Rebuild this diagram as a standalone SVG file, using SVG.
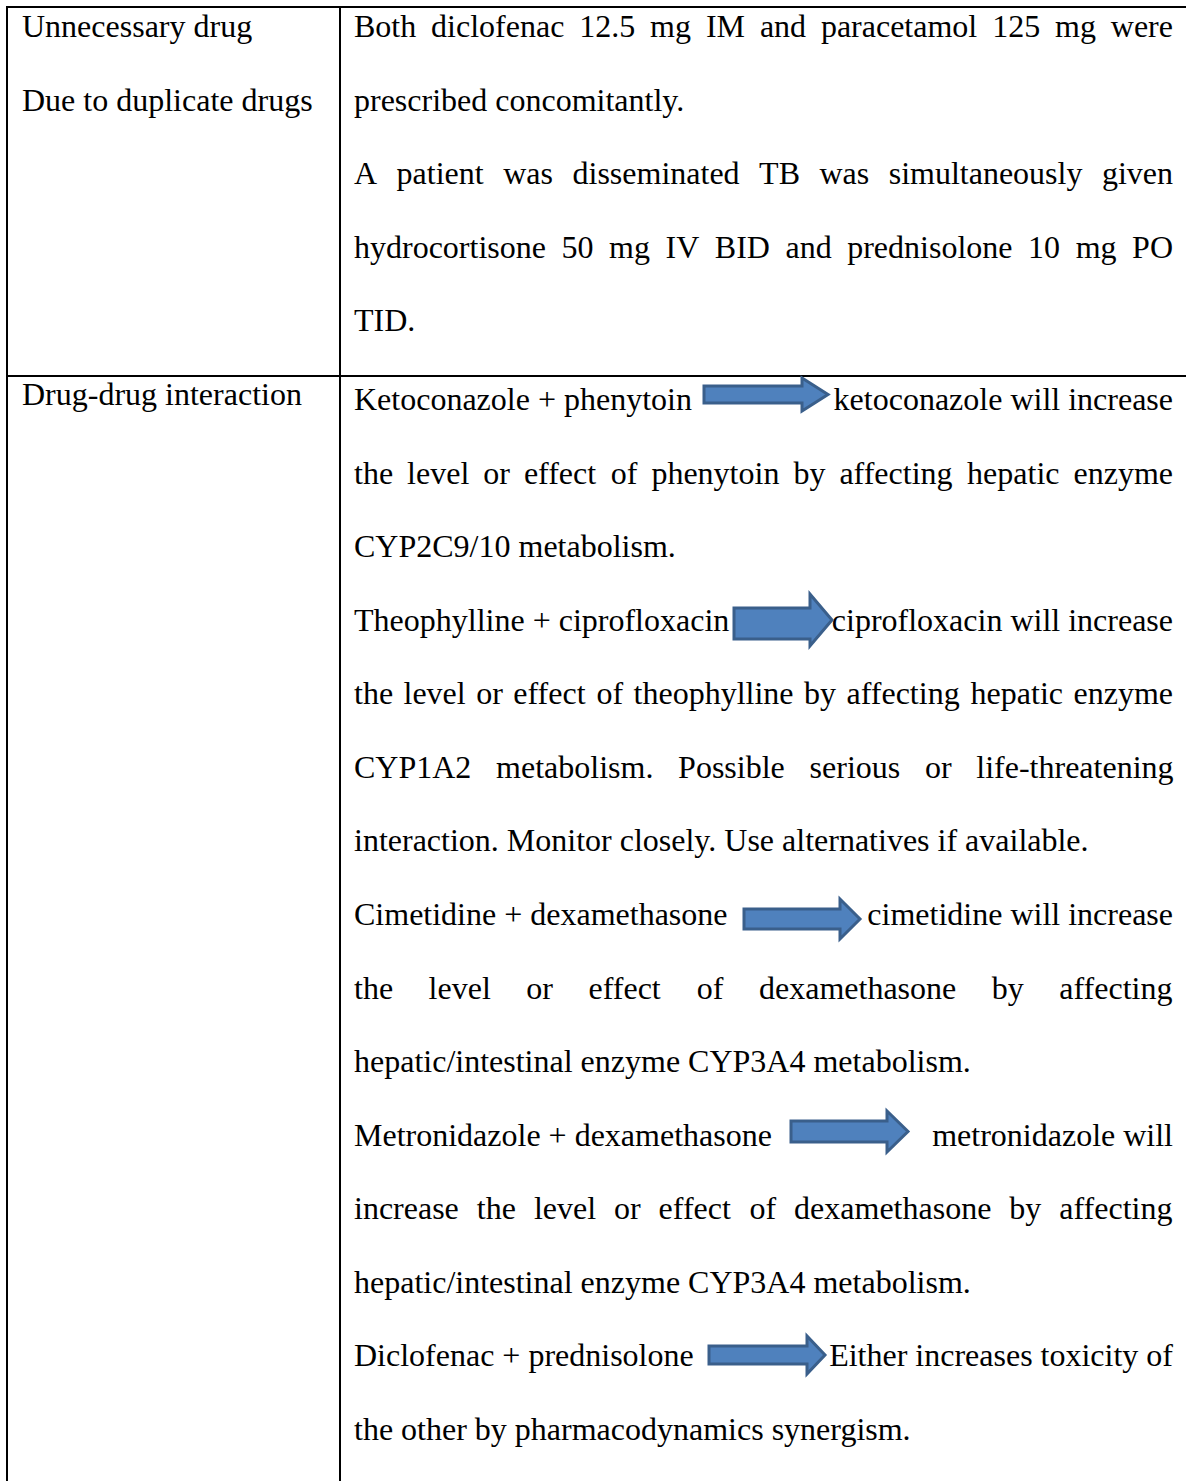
<svg xmlns="http://www.w3.org/2000/svg" width="1186" height="1481" viewBox="0 0 1186 1481">
<style>
text{font-family:"Liberation Serif","Times New Roman",serif;font-size:32px;fill:#000}
.r{text-anchor:end}
.grid{stroke:#000;stroke-width:2;fill:none}
.arr{fill:#4F81BD;stroke:#3A5F8B;stroke-width:3;stroke-linejoin:miter}
</style>
<rect width="1186" height="1481" fill="#fff"/>
<g id="grid" class="grid">
<line x1="7" y1="7" x2="1186" y2="7"/>
<line x1="7" y1="376" x2="1186" y2="376"/>
<line x1="7" y1="6" x2="7" y2="1481"/>
<line x1="340" y1="6" x2="340" y2="1481"/>
</g>
<g id="row1-left">
<text x="22" y="37">Unnecessary drug</text>
<text x="22" y="110.5">Due to duplicate drugs</text>
</g>
<g id="row1-right">
<text y="37"><tspan x="354">Both</tspan><tspan x="431.1">diclofenac</tspan><tspan x="579.3">12.5</tspan><tspan x="650.1">mg</tspan><tspan x="705.9">IM</tspan><tspan x="759.9">and</tspan><tspan x="820.9">paracetamol</tspan><tspan x="992.2">125</tspan><tspan x="1055.1">mg</tspan><tspan x="1110.8">were</tspan></text>
<text x="354" y="110.5">prescribed concomitantly.</text>
<text y="184"><tspan x="354">A</tspan><tspan x="396.6">patient</tspan><tspan x="503.2">was</tspan><tspan x="572.5">disseminated</tspan><tspan x="759.1">TB</tspan><tspan x="819.5">was</tspan><tspan x="888.7">simultaneously</tspan><tspan x="1101.9">given</tspan></text>
<text y="257.5"><tspan x="354">hydrocortisone</tspan><tspan x="561.5">50</tspan><tspan x="609.1">mg</tspan><tspan x="665.5">IV</tspan><tspan x="714.8">BID</tspan><tspan x="785.5">and</tspan><tspan x="847.2">prednisolone</tspan><tspan x="1028.1">10</tspan><tspan x="1075.7">mg</tspan><tspan x="1132.1">PO</tspan></text>
<text x="354" y="331">TID.</text>
</g>
<g id="row2-left">
<text x="22" y="405">Drug-drug interaction</text>
</g>
<g id="row2-right">
<text x="354" y="410">Ketoconazole + phenytoin</text>
<text class="r" x="1173" y="410">ketoconazole will increase</text>
<text y="483.6"><tspan x="354">the</tspan><tspan x="407.1">level</tspan><tspan x="483.3">or</tspan><tspan x="523.9">effect</tspan><tspan x="610.8">of</tspan><tspan x="651.4">phenytoin</tspan><tspan x="793.4">by</tspan><tspan x="839.4">affecting</tspan><tspan x="967.1">hepatic</tspan><tspan x="1073.5">enzyme</tspan></text>
<text x="354" y="557.1">CYP2C9/10 metabolism.</text>
<text x="354" y="630.7">Theophylline + ciprofloxacin</text>
<text class="r" x="1173" y="630.7">ciprofloxacin will increase</text>
<text y="704.3"><tspan x="354">the</tspan><tspan x="403.5">level</tspan><tspan x="476.2">or</tspan><tspan x="513.3">effect</tspan><tspan x="596.5">of</tspan><tspan x="633.6">theophylline</tspan><tspan x="804">by</tspan><tspan x="846.5">affecting</tspan><tspan x="970.6">hepatic</tspan><tspan x="1073.5">enzyme</tspan></text>
<text y="777.9"><tspan x="354">CYP1A2</tspan><tspan x="496.1">metabolism.</tspan><tspan x="678.1">Possible</tspan><tspan x="809.6">serious</tspan><tspan x="925">or</tspan><tspan x="976.3">life-threatening</tspan></text>
<text x="354" y="851.4">interaction. Monitor closely. Use alternatives if available.</text>
<text x="354" y="925">Cimetidine + dexamethasone</text>
<text class="r" x="1173" y="925">cimetidine will increase</text>
<text y="998.6"><tspan x="354">the</tspan><tspan x="428.6">level</tspan><tspan x="526.3">or</tspan><tspan x="588.5">effect</tspan><tspan x="696.8">of</tspan><tspan x="759">dexamethasone</tspan><tspan x="991.8">by</tspan><tspan x="1059.3">affecting</tspan></text>
<text x="354" y="1072.1">hepatic/intestinal enzyme CYP3A4 metabolism.</text>
<text x="354" y="1145.7">Metronidazole + dexamethasone</text>
<text class="r" x="1173" y="1145.7">metronidazole will</text>
<text y="1219.3"><tspan x="354">increase</tspan><tspan x="476.8">the</tspan><tspan x="533.9">level</tspan><tspan x="614">or</tspan><tspan x="658.6">effect</tspan><tspan x="749.4">of</tspan><tspan x="794.1">dexamethasone</tspan><tspan x="1009.3">by</tspan><tspan x="1059.3">affecting</tspan></text>
<text x="354" y="1292.9">hepatic/intestinal enzyme CYP3A4 metabolism.</text>
<text x="354" y="1366.4">Diclofenac + prednisolone</text>
<text class="r" x="1173" y="1366.4">Either increases toxicity of</text>
<text x="354" y="1440">the other by pharmacodynamics synergism.</text>
</g>
<g id="arrows">
<polygon class="arr" points="704,386 802,386 802,378 828,394.5 802,411 802,403 704,403"/>
<polygon class="arr" points="734,608 810,608 810,594 832,620 810,646 810,639 734,639"/>
<polygon class="arr" points="744,909 840,909 840,899 860,919 840,939 840,929 744,929"/>
<polygon class="arr" points="791,1121 887,1121 887,1111 908,1131.5 887,1152 887,1142 791,1142"/>
<polygon class="arr" points="709,1346 807,1346 807,1336 825,1355 807,1374 807,1364 709,1364"/>
</g>
</svg>
